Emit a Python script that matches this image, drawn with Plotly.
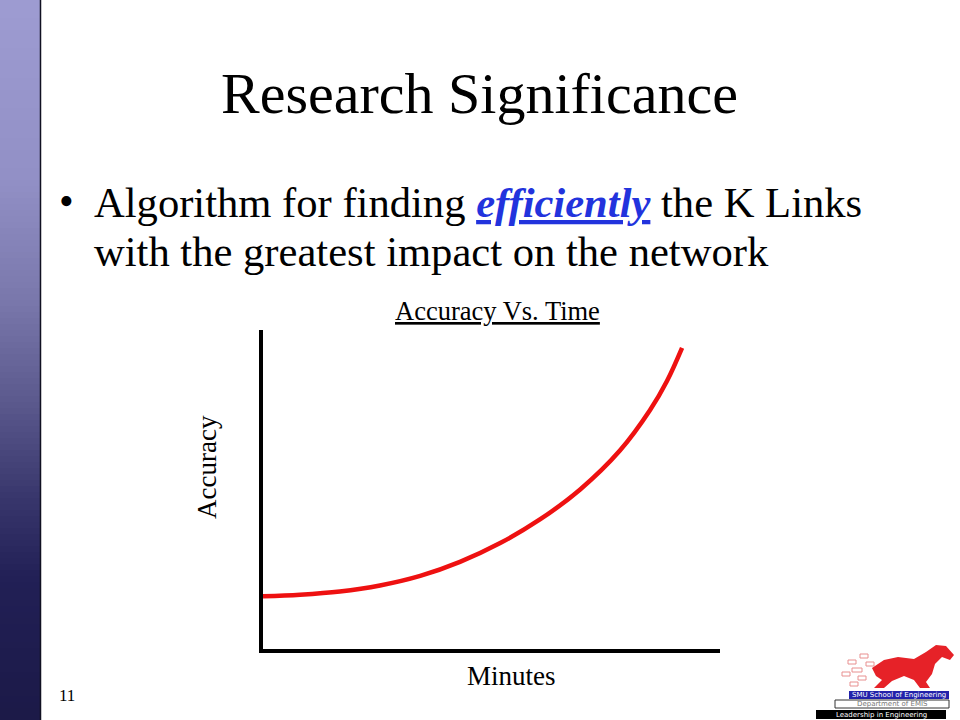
import plotly.graph_objects as go

# ---- data ----
minutes = [0, 8.1, 16.8, 25.6, 34.4, 43.1, 51.9, 60.6, 69.4, 78.1, 84.7, 88.4, 91.7]
accuracy = [16.5, 17.0, 18.0, 19.9, 22.9, 27.3, 33.2, 40.6, 50.0, 62.2, 74.9, 84.0, 94.4]

chart_title = "Accuracy Vs. Time"
x_title = "Minutes"
y_title = "Accuracy"
slide_title = "Research Significance"
page_number = "11"

W, H = 960, 720
def px(x):
    return x / W
def py(y):
    return 1 - y / H

SERIF = "Liberation Serif, Times New Roman, serif"

fig = go.Figure()
fig.add_trace(go.Scatter(
    x=minutes, y=accuracy, mode="lines",
    line=dict(color="#ee1111", width=4.5, shape="spline", smoothing=1.0),
    hoverinfo="skip", showlegend=False,
))

shapes = []
stops = [(0, (0x9e, 0x9c, 0xd2)), (180, (0x92, 0x90, 0xc6)), (300, (0x7a, 0x78, 0xac)),
         (400, (0x5c, 0x5a, 0x8e)), (500, (0x38, 0x36, 0x6c)), (580, (0x22, 0x20, 0x56)),
         (720, (0x1c, 0x1a, 0x48))]
def col_at(y):
    for i in range(len(stops) - 1):
        y0, c0 = stops[i]
        y1, c1 = stops[i + 1]
        if y0 <= y <= y1:
            t = (y - y0) / (y1 - y0)
            return "rgb(%d,%d,%d)" % tuple(int(c0[k] + (c1[k] - c0[k]) * t) for k in range(3))
    return "rgb(28,26,72)"
step = 6
for y in range(0, 720, step):
    shapes.append(dict(type="rect", xref="paper", yref="paper",
                       x0=px(0), x1=px(40), y0=py(y + step + 0.5), y1=py(y),
                       fillcolor=col_at(y + step / 2), line=dict(width=0), layer="below"))
shapes.append(dict(type="line", xref="paper", yref="paper", x0=px(40.5), x1=px(40.5),
                   y0=0, y1=1, line=dict(color="#111122", width=1.5)))

# logo boxes
shapes.append(dict(type="rect", xref="paper", yref="paper", x0=px(849), x1=px(949),
                   y0=py(699), y1=py(691), fillcolor="#2222aa", line=dict(width=0)))
shapes.append(dict(type="rect", xref="paper", yref="paper", x0=px(835), x1=px(949),
                   y0=py(708), y1=py(700), fillcolor="white", line=dict(color="#333333", width=1)))
shapes.append(dict(type="rect", xref="paper", yref="paper", x0=px(816), x1=px(946),
                   y0=py(719), y1=py(710), fillcolor="black", line=dict(width=0)))
# rough mustang silhouette
horse = [(872, 668), (884, 660), (898, 657), (914, 659), (926, 652), (936, 645), (946, 646),
         (954, 655), (950, 660), (942, 657), (935, 664), (932, 674), (926, 682), (930, 688),
         (920, 688), (914, 680), (904, 676), (892, 681), (884, 688), (874, 688), (882, 680),
         (876, 676)]
path = "M " + " L ".join("%f,%f" % (px(x), py(y)) for x, y in horse) + " Z"
shapes.append(dict(type="path", xref="paper", yref="paper", path=path,
                   fillcolor="#e62228", line=dict(width=0)))
for (x0, y0, x1, y1) in [(848, 660, 856, 664), (852, 668, 862, 672), (858, 676, 866, 680),
                         (842, 672, 850, 676), (860, 654, 868, 658), (850, 682, 858, 686),
                         (866, 662, 874, 666)]:
    shapes.append(dict(type="rect", xref="paper", yref="paper", x0=px(x0), x1=px(x1),
                       y0=py(y1), y1=py(y0), fillcolor="rgba(0,0,0,0)",
                       line=dict(color="#e89090", width=1)))

def ann(text, x, y, size, xanchor="center", color="black", family=SERIF, **kw):
    d = dict(text=text, x=px(x), y=py(y), xref="paper", yref="paper",
             xanchor=xanchor, yanchor="middle", showarrow=False,
             font=dict(family=family, size=size, color=color))
    d.update(kw)
    return d

annotations = [
    ann(slide_title, 479, 94, 58),
    ann("•", 57, 201, 42, xanchor="left"),
    ann("Algorithm for finding <span style='color:#2233dd'><b><i><u>efficiently</u></i></b></span> the K Links",
        92, 202, 42.6, xanchor="left"),
    ann("with the greatest impact on the network", 92, 252, 42.6, xanchor="left"),
    ann("<u>" + chart_title + "</u>", 497, 311, 26.5),
    ann(y_title, 207, 467, 27, textangle=-90),
    ann(x_title, 511, 676, 27),
    ann(page_number, 57, 695, 17, xanchor="left"),
    ann("SMU School of Engineering", 899, 695, 7, color="white", family="DejaVu Sans"),
    ann("Department of EMIS", 892, 704, 7, color="#777777", family="DejaVu Sans"),
    ann("Leadership in Engineering", 881, 714.5, 7, color="white", family="DejaVu Sans"),
]

fig.update_layout(
    width=W, height=H,
    margin=dict(l=0, r=0, t=0, b=0),
    paper_bgcolor="white", plot_bgcolor="white",
    xaxis=dict(domain=[px(263), px(720)], range=[0, 100], showgrid=False, zeroline=False,
               showticklabels=False, ticks="", showline=True, linecolor="black", linewidth=4,
               fixedrange=True),
    yaxis=dict(domain=[py(649), py(330)], range=[0, 100], showgrid=False, zeroline=False,
               showticklabels=False, ticks="", showline=True, linecolor="black", linewidth=4,
               fixedrange=True),
    shapes=shapes,
    annotations=annotations,
    showlegend=False,
)

fig.write_html("out.html", config={"displayModeBar": False},
               post_script="document.body.style.margin='0';document.body.style.overflow='hidden';")
